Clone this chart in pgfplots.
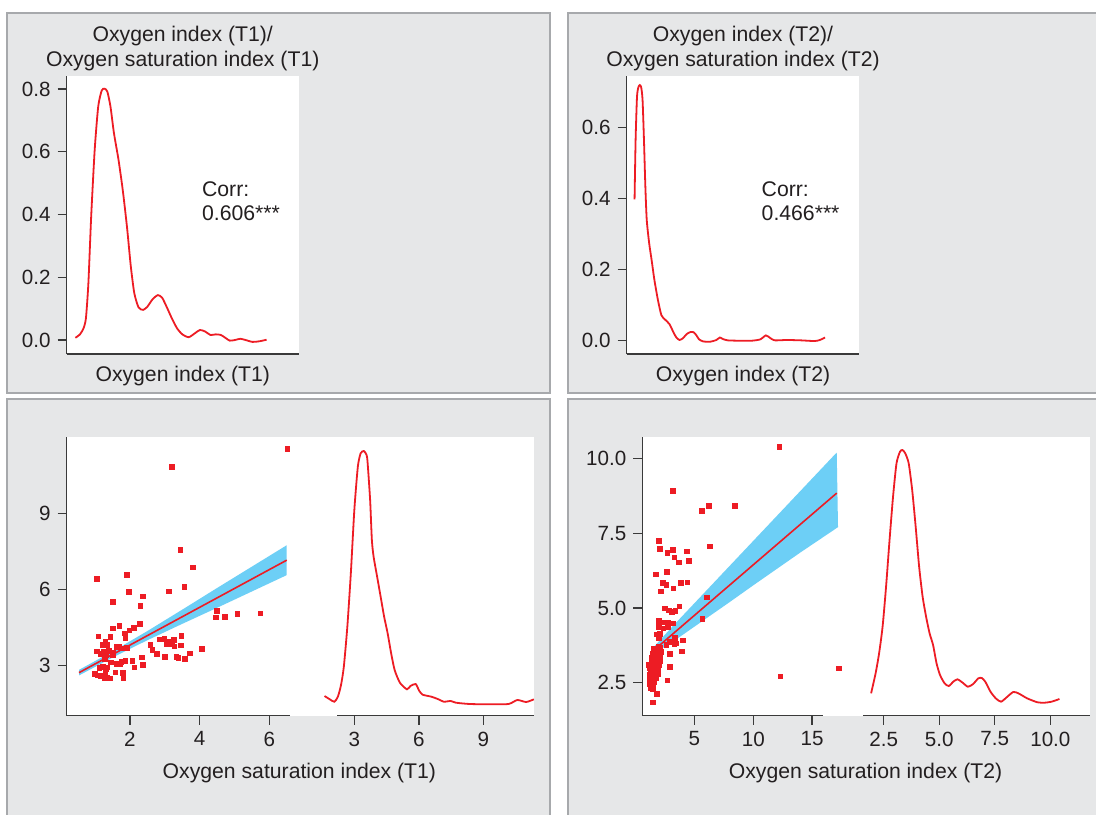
\documentclass[border=0pt]{standalone}
\usepackage{fontspec}
\setmainfont{Liberation Sans}
\usepackage{pgfplots}
\pgfplotsset{compat=1.18}
\definecolor{pnl}{HTML}{E6E7E8}
\definecolor{pnlb}{HTML}{A7A9AC}
\definecolor{rd}{HTML}{ED1C24}
\definecolor{bl}{HTML}{6DCFF6}
\definecolor{ax}{HTML}{3A3A3A}
\definecolor{tx}{HTML}{231F20}
\pgfplotsset{
  base/.style={scale only axis, anchor=south west,
    axis line style={-, ax, line width=0.7pt},
    tick style={ax, line width=0.7pt}, tick align=outside,
    major tick length=4.5pt,
    ticklabel style={font=\fontsize{10.3}{12}\selectfont, text=tx},
    /pgf/number format/assume math mode=true},
  onedec/.style={/pgf/number format/.cd, fixed, fixed zerofill, precision=1},
  dens/.style={rd, line width=0.9pt, smooth, tension=0.4},
  pts/.style={only marks, mark=square*, mark size=1.15pt, rd, mark options={draw=rd, fill=rd}},
}
\tikzset{lbl/.style={text=tx, font=\fontsize{10.6}{12.7}\selectfont}}
\begin{document}
\begin{tikzpicture}
\useasboundingbox (0,0) rectangle (548pt,-407pt);
\fill[white] (0,0) rectangle (548pt,-407pt);
% panels
\filldraw[fill=pnl, draw=pnlb, line width=1pt] (3.5pt,-6.5pt) rectangle (274.75pt,-196.35pt);
\filldraw[fill=pnl, draw=pnlb, line width=1pt] (284pt,-6.5pt) rectangle (556pt,-196.35pt);
\filldraw[fill=pnl, draw=pnlb, line width=1pt] (3.5pt,-199.5pt) rectangle (274.75pt,-412pt);
\filldraw[fill=pnl, draw=pnlb, line width=1pt] (284pt,-199.5pt) rectangle (556pt,-412pt);
% white plot areas
\fill[white] (33.3pt,-38pt) rectangle (149.4pt,-177pt);
\fill[white] (313.3pt,-38pt) rectangle (429.6pt,-177pt);
\fill[white] (33.3pt,-218.65pt) rectangle (266.9pt,-357.85pt);
\fill[white] (321.15pt,-218.65pt) rectangle (544.85pt,-357.85pt);

% ---------- top-left ----------
\begin{axis}[base, at={(33.3pt,-177pt)}, width=116.1pt, height=139pt,
  axis lines*=left, xmin=0.184, xmax=6.846, ymin=-0.0446, ymax=0.8414,
  xtick=\empty, ytick={0,0.2,0.4,0.6,0.8}, yticklabel style={onedec}]
\addplot[dens] coordinates {
(0.436,0.007)(0.567,0.018)(0.668,0.037)(0.738,0.069)(0.809,0.181)(0.889,0.393)
(0.990,0.606)(1.091,0.744)(1.191,0.795)(1.272,0.801)(1.352,0.792)(1.443,0.744)
(1.543,0.659)(1.674,0.574)(1.795,0.478)(1.916,0.361)(2.027,0.234)(2.127,0.149)
(2.248,0.104)(2.379,0.096)(2.500,0.106)(2.651,0.130)(2.802,0.143)(2.923,0.135)
(3.053,0.106)(3.204,0.069)(3.355,0.037)(3.506,0.018)(3.687,0.009)(3.859,0.021)
(4.009,0.032)(4.160,0.027)(4.311,0.016)(4.462,0.018)(4.613,0.016)(4.764,0.005)
(4.865,-0.002)(5.016,0.000)(5.167,0.004)(5.318,0.000)(5.519,-0.006)(5.720,-0.004)
(5.922,0.001)};
\end{axis}
\node[lbl, anchor=base] at (91.35pt,-20.85pt) {Oxygen index (T1)/};
\node[lbl, anchor=base] at (91.35pt,-33.35pt) {Oxygen saturation index (T1)};
\node[lbl, anchor=base] at (91.35pt,-190.5pt) {Oxygen index (T1)};
\node[lbl, anchor=base west, inner sep=0pt] at (100.85pt,-98pt) {Corr:};
\node[lbl, anchor=base west, inner sep=0pt] at (100.85pt,-110pt) {0.606***};

% ---------- top-right ----------
\begin{axis}[base, at={(313.3pt,-177pt)}, width=116.3pt, height=139pt,
  axis lines*=left, xmin=-0.76, xmax=19.0, ymin=-0.0375, ymax=0.7456,
  xtick=\empty, ytick={0,0.2,0.4,0.6}, yticklabel style={onedec}]
\addplot[dens] coordinates {
(-0.084,0.398)(0.004,0.565)(0.123,0.687)(0.241,0.714)(0.360,0.720)(0.478,0.714)
(0.596,0.678)(0.715,0.565)(0.833,0.434)(0.951,0.340)(1.159,0.274)(1.366,0.227)
(1.602,0.171)(1.898,0.115)(2.194,0.072)(2.490,0.060)(2.874,0.047)(3.229,0.023)
(3.466,0.009)(3.732,0.002)(4.028,0.007)(4.324,0.018)(4.619,0.024)(4.915,0.024)
(5.152,0.016)(5.389,0.004)(5.743,-0.002)(6.335,-0.003)(6.867,0.002)(7.164,0.009)
(7.400,0.005)(7.815,0.001)(8.702,0.000)(9.886,0.000)(10.625,0.004)(11.069,0.015)
(11.424,0.008)(11.808,0.001)(12.844,0.002)(14.027,0.001)(15.210,-0.001)(15.655,0.002)
(16.099,0.009)};
\end{axis}
\node[lbl, anchor=base] at (371.5pt,-20.85pt) {Oxygen index (T2)/};
\node[lbl, anchor=base] at (371.5pt,-33.35pt) {Oxygen saturation index (T2)};
\node[lbl, anchor=base] at (371.5pt,-190.5pt) {Oxygen index (T2)};
\node[lbl, anchor=base west, inner sep=0pt] at (380.65pt,-98pt) {Corr:};
\node[lbl, anchor=base west, inner sep=0pt] at (380.65pt,-110pt) {0.466***};

% ---------- bottom-left scatter ----------
\begin{axis}[base, at={(33.3pt,-357.85pt)}, width=111.9pt, height=139.2pt,
  axis lines*=left, xmin=0.184, xmax=6.605, ymin=1.01, ymax=12.0,
  xtick={2,4,6}, ytick={3,6,9}, clip=false]
\addplot[fill=bl, draw=none] coordinates {
(0.54,2.82)(1.5,3.545)(2.5,4.35)(3.5,5.195)(4.5,6.05)(5.5,6.895)(6.5,7.74)
(6.5,6.56)(5.5,5.915)(4.5,5.27)(3.5,4.635)(2.5,3.99)(1.5,3.305)(0.54,2.60)} -- cycle;
\addplot[pts] coordinates {
(6.52,11.55)(3.20,10.83)(3.45,7.56)(3.81,6.86)(1.06,6.42)(1.92,6.56)(1.97,5.89)
(3.12,5.92)(3.56,6.09)(2.38,5.72)(2.30,5.34)(1.51,5.50)(4.50,5.14)(4.46,4.89)
(4.72,4.92)(5.09,5.04)(5.74,5.05)(1.70,4.56)(1.51,4.45)(2.29,4.63)(2.12,4.48)
(1.98,4.38)(1.86,4.26)(1.87,4.06)(1.10,4.14)(1.44,4.12)(1.30,3.95)(1.22,3.80)
(1.36,3.80)(1.05,3.55)(1.16,3.44)(1.25,3.55)(1.39,3.58)(1.33,3.42)(1.52,3.50)
(1.51,3.39)(1.28,3.26)(1.62,3.72)(1.70,3.73)(1.78,3.67)(1.92,3.69)(1.46,3.11)
(1.76,3.14)(1.87,3.17)(1.62,3.05)(1.73,3.05)(1.12,2.89)(1.22,2.93)(1.36,2.92)
(1.32,2.84)(0.99,2.67)(1.08,2.60)(1.17,2.58)(1.27,2.51)(1.35,2.50)(1.42,2.49)
(1.30,2.64)(1.58,2.72)(1.80,2.71)(1.81,2.50)(2.07,3.18)(2.13,2.92)(2.35,3.31)
(2.38,3.02)(2.59,3.80)(2.65,3.60)(2.78,3.44)(2.86,4.02)(2.99,4.04)(3.00,3.34)
(3.06,3.85)(3.09,3.92)(3.12,3.83)(3.20,3.84)(3.27,4.01)(3.28,3.75)(3.33,3.34)
(3.39,3.30)(3.48,4.15)(3.47,3.78)(3.58,3.26)(3.72,3.47)(4.07,3.65)};
\addplot[rd, line width=0.8pt] coordinates {(0.54,2.71)(6.5,7.15)};
\end{axis}

% ---------- bottom-left density ----------
\begin{axis}[base, at={(168.7pt,-357.85pt)}, width=98.2pt, height=139.2pt,
  axis x line*=bottom, axis y line=none, xmin=2.21, xmax=11.35, ymin=0, ymax=2.784,
  xtick={3,6,9}, clip=false]
\addplot[dens] coordinates {
(1.612,0.197)(1.856,0.164)(2.068,0.140)(2.232,0.190)(2.378,0.307)(2.509,0.490)
(2.672,0.890)(2.835,1.424)(2.998,2.057)(3.161,2.490)(3.292,2.624)(3.439,2.647)
(3.569,2.607)(3.618,2.524)(3.733,2.157)(3.814,1.757)(3.895,1.590)(4.059,1.390)
(4.222,1.190)(4.385,0.990)(4.548,0.824)(4.711,0.624)(4.874,0.457)(5.119,0.330)
(5.446,0.264)(5.608,0.297)(5.853,0.317)(6.016,0.250)(6.180,0.210)(6.588,0.190)
(6.914,0.164)(7.158,0.140)(7.485,0.147)(7.729,0.130)(8.382,0.117)(9.361,0.114)
(10.176,0.117)(10.584,0.157)(10.992,0.137)(11.351,0.164)};
\end{axis}
\node[lbl, anchor=base] at (149.7pt,-389.2pt) {Oxygen saturation index (T1)};

% ---------- bottom-right scatter ----------
\begin{axis}[base, at={(321.15pt,-357.85pt)}, width=90.5pt, height=139.2pt,
  axis lines*=left, xmin=0.57, xmax=15.95, ymin=1.39, ymax=10.72,
  xtick={5,10,15}, ytick={2.5,5,7.5,10}, yticklabel style={onedec}, clip=false]
\addplot[fill=bl, draw=none] coordinates {
(1.42,3.64)(3,4.325)(4,4.743)(6,5.578)(8,6.414)(10,7.249)(12,8.084)(14,8.92)(17.09,10.21)
(17.2,7.71)(14,6.86)(12,6.31)(10,5.76)(8,5.20)(6,4.65)(4,4.10)(3,3.825)(1.42,3.44)} -- cycle;
\addplot[pts] coordinates {
(12.21,10.39)(3.15,8.92)(5.64,8.26)(6.24,8.43)(8.44,8.43)(1.96,7.24)(2.07,6.98)
(2.70,6.85)(3.18,6.95)(3.29,6.69)(3.69,6.53)(4.34,6.89)(4.51,6.57)(6.32,7.07)
(1.70,6.12)(2.64,6.21)(2.30,5.84)(2.61,5.77)(3.86,5.84)(4.40,5.86)(2.13,5.56)
(3.20,5.65)(6.06,5.36)(2.47,4.99)(2.81,4.92)(3.06,4.87)(3.37,4.90)(3.71,5.05)
(5.67,4.63)(1.96,4.59)(1.96,4.47)(2.38,4.52)(2.78,4.50)(3.17,4.49)(1.96,4.37)
(2.36,4.31)(2.73,4.36)(1.79,4.11)(2.07,4.13)(1.99,4.00)(3.32,3.99)(4.00,3.91)
(3.40,3.81)(2.61,3.76)(2.90,3.87)(2.92,3.47)(3.92,3.54)(2.70,2.57)(2.90,3.02)
(12.32,2.71)(17.28,2.97)(1.48,1.83)(1.82,2.12)(3.29,3.80)
(1.50,3.62)(1.62,3.58)(1.75,3.55)(1.90,3.60)(2.05,3.57)(2.18,3.52)(1.45,3.48)
(1.58,3.45)(1.70,3.42)(1.85,3.46)(1.98,3.40)(2.12,3.38)(1.40,3.35)(1.52,3.30)
(1.66,3.32)(1.80,3.28)(1.93,3.25)(2.05,3.22)(1.35,3.20)(1.48,3.17)(1.60,3.15)
(1.73,3.12)(1.86,3.10)(1.98,3.07)(1.30,3.05)(1.42,3.02)(1.55,3.00)(1.68,2.97)
(1.80,2.95)(1.92,2.92)(1.25,2.90)(1.37,2.87)(1.50,2.85)(1.62,2.82)(1.75,2.80)
(1.87,2.77)(1.22,2.75)(1.34,2.72)(1.46,2.70)(1.58,2.67)(1.70,2.64)(1.20,2.60)
(1.32,2.57)(1.44,2.55)(1.56,2.52)(1.18,2.45)(1.30,2.42)(1.42,2.40)(1.52,2.38)
(1.25,2.32)(1.38,2.30)(1.48,2.28)(1.15,3.10)(1.22,3.00)(1.28,2.95)(1.95,3.70)
(2.10,3.68)};
\addplot[rd, line width=0.8pt] coordinates {(1.42,3.54)(17.09,8.85)};
\end{axis}

% ---------- bottom-right density ----------
\begin{axis}[base, at={(431.7pt,-357.85pt)}, width=113.15pt, height=139.2pt,
  axis x line*=bottom, axis y line=none, xmin=1.59, xmax=11.77, ymin=0, ymax=2.784,
  xtick={2.5,5,7.5,10}, xticklabel style={onedec}, clip=false]
\addplot[dens] coordinates {
(1.936,0.224)(2.139,0.424)(2.296,0.624)(2.453,0.890)(2.609,1.290)(2.766,1.757)
(2.923,2.190)(3.079,2.524)(3.236,2.640)(3.345,2.657)(3.471,2.624)(3.627,2.524)
(3.784,2.257)(3.941,1.890)(4.097,1.490)(4.254,1.190)(4.410,0.990)(4.567,0.824)
(4.724,0.707)(4.880,0.524)(5.037,0.407)(5.241,0.324)(5.429,0.297)(5.632,0.340)
(5.820,0.364)(6.055,0.330)(6.290,0.290)(6.525,0.317)(6.760,0.374)(6.916,0.377)
(7.073,0.340)(7.308,0.240)(7.543,0.174)(7.778,0.140)(8.013,0.180)(8.326,0.237)
(8.561,0.224)(8.953,0.174)(9.423,0.134)(9.736,0.130)(10.049,0.140)(10.409,0.167)};
\end{axis}
\node[lbl, anchor=base] at (432.75pt,-389.2pt) {Oxygen saturation index (T2)};
\end{tikzpicture}
\end{document}
